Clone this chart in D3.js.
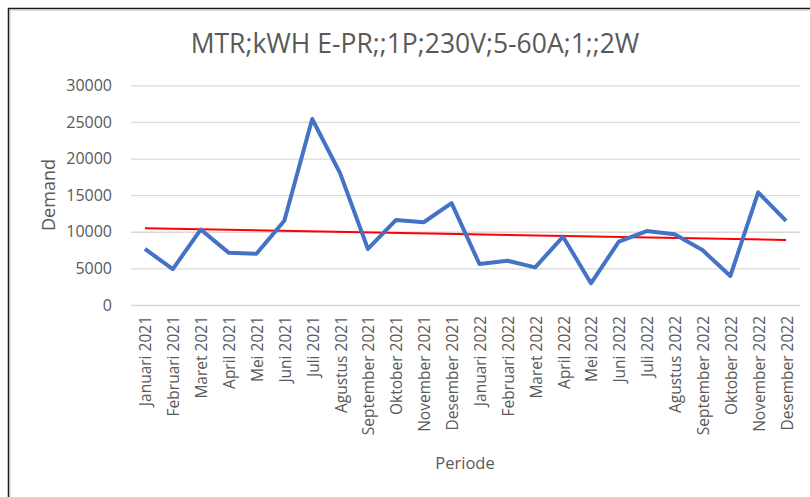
<!DOCTYPE html>
<html>
<head>
<meta charset="utf-8">
<script src="https://cdn.jsdelivr.net/npm/d3@7"></script>
<style>
  body { margin: 0; background: #fff; }
  text { font-family: "Open Sans", sans-serif; fill: #595959; }
</style>
</head>
<body>
<script>
const WIDTH_PX = 810;
const HEIGHT_PX = 497;

const chartTitle = 'MTR;kWH E-PR;;1P;230V;5-60A;1;;2W';
const periods = [
  'Januari 2021', 'Februari 2021', 'Maret 2021', 'April 2021', 'Mei 2021',
  'Juni 2021', 'Juli 2021', 'Agustus 2021', 'September 2021', 'Oktober 2021',
  'November 2021', 'Desember 2021', 'Januari 2022', 'Februari 2022',
  'Maret 2022', 'April 2022', 'Mei 2022', 'Juni 2022', 'Juli 2022',
  'Agustus 2022', 'September 2022', 'Oktober 2022', 'November 2022',
  'Desember 2022'
];
const demand = [
  7650, 4900, 10300, 7150, 7000, 11500, 25400, 18000, 7650, 11600, 11300,
  13900, 5600, 6050, 5140, 9330, 2960, 8650, 10100, 9650, 7500, 3960, 15380,
  11500
];
// linear trendline, first and last value
const trendEnds = [10470, 8880];
const yTicks = [0, 5000, 10000, 15000, 20000, 25000, 30000];

let svg = d3.select('body').append('svg')
    .attr('width', WIDTH_PX)
    .attr('height', HEIGHT_PX);

// chart frame (only top and left edges are visible in the crop)
svg.append('rect')
    .attr('x', 8.5).attr('y', 8.5)
    .attr('width', 900).attr('height', 600)
    .attr('fill', 'none')
    .attr('stroke', '#1a1a1a')
    .attr('stroke-width', 1.5);
svg.append('rect')
    .attr('x', 10).attr('y', 10)
    .attr('width', 900).attr('height', 600)
    .attr('fill', 'none')
    .attr('stroke', '#bfbfbf')
    .attr('stroke-width', 1);

let xScale = d3.scalePoint()
    .domain(periods)
    .range([131, 800])
    .padding(0.5);

let yScale = d3.scaleLinear()
    .domain([0, 30000])
    .range([305, 85.3]);

// gridlines + y labels
let yAxis = svg.append('g')
    .attr('transform', 'translate(131,0)')
    .call(d3.axisLeft(yScale).tickValues(yTicks).tickSize(-669)
        .tickPadding(19).tickFormat(d3.format('d')));
yAxis.select('.domain').remove();
yAxis.selectAll('line')
    .attr('stroke', '#d9d9d9')
    .attr('stroke-width', 1.3);
yAxis.selectAll('text')
    .attr('font-size', 16)
    .attr('font-family', '"Open Sans", sans-serif')
    .style('fill', '#595959');

// x labels, rotated
let xAxis = svg.append('g')
    .attr('transform', 'translate(0,305)')
    .call(d3.axisBottom(xScale).tickSize(0));
xAxis.select('.domain').remove();
xAxis.selectAll('text')
    .attr('font-size', 15.5)
    .attr('font-family', '"Open Sans", sans-serif')
    .style('fill', '#595959')
    .attr('text-anchor', 'end')
    .attr('dy', null)
    .attr('y', 0)
    .attr('transform', 'translate(6,11) rotate(-90)');

// trendline
svg.append('line')
    .attr('x1', xScale(periods[0]))
    .attr('y1', yScale(trendEnds[0]))
    .attr('x2', xScale(periods[periods.length - 1]))
    .attr('y2', yScale(trendEnds[1]))
    .attr('stroke', '#ff0000')
    .attr('stroke-width', 2);

let line = d3.line()
    .x(function(d, i) { return xScale(periods[i]); })
    .y(function(d) { return yScale(d); });

svg.append('path')
    .attr('d', line(demand))
    .attr('fill', 'none')
    .attr('stroke', '#4472c4')
    .attr('stroke-width', 4)
    .attr('stroke-linejoin', 'round');

// titles
svg.append('text')
    .attr('x', 415).attr('y', 53)
    .attr('text-anchor', 'middle')
    .attr('font-size', 26.5)
    .text(chartTitle);

svg.append('text')
    .attr('x', 465).attr('y', 469)
    .attr('text-anchor', 'middle')
    .attr('font-size', 16.5)
    .text('Periode');

svg.append('text')
    .attr('transform', 'translate(55,195) rotate(-90)')
    .attr('text-anchor', 'middle')
    .attr('font-size', 18)
    .text('Demand');
</script>
</body>
</html>
